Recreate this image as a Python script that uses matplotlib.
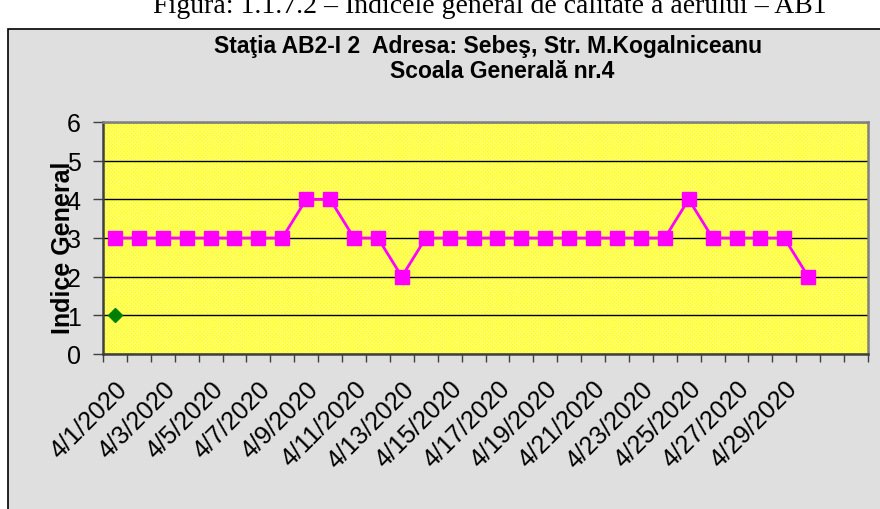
import numpy as np
import matplotlib
matplotlib.use("Agg")
import matplotlib.pyplot as plt
from matplotlib.patches import Rectangle
from matplotlib.transforms import ScaledTranslation

# data
dates = ["4/1/2020", "4/2/2020", "4/3/2020", "4/4/2020", "4/5/2020", "4/6/2020",
         "4/7/2020", "4/8/2020", "4/9/2020", "4/10/2020", "4/11/2020", "4/12/2020",
         "4/13/2020", "4/14/2020", "4/15/2020", "4/16/2020", "4/17/2020", "4/18/2020",
         "4/19/2020", "4/20/2020", "4/21/2020", "4/22/2020", "4/23/2020", "4/24/2020",
         "4/25/2020", "4/26/2020", "4/27/2020", "4/28/2020", "4/29/2020", "4/30/2020"]
indice_general = [3, 3, 3, 3, 3, 3, 3, 3, 4, 4, 3, 3, 2, 3, 3,
                  3, 3, 3, 3, 3, 3, 3, 3, 3, 4, 3, 3, 3, 3, 2]
indice_specific = [1]
n_slots = 32

plt.rcParams['font.family'] = ['Liberation Sans', 'DejaVu Sans']
plt.rcParams['hatch.linewidth'] = 1.0

W, H = 880, 510
fig = plt.figure(figsize=(W / 100, H / 100), dpi=100, facecolor='white')

# chart frame with grey background
fig.patches.append(Rectangle((8 / W, -0.01), 1.0, 1 - 30 / H + 0.01, transform=fig.transFigure,
                             facecolor='#dfdfdf', edgecolor='black', lw=1.2, zorder=-1))

# caption cut at the top
fig.text(490 / W, 1 - 13 / H, "Figura: 1.1.7.2 – Indicele general de calitate a aerului – AB1",
         family=['Liberation Serif', 'DejaVu Serif'], fontsize=20, ha='center', va='baseline')

fig.text(488 / W, 1 - 47 / H, "Staţia AB2-I 2  Adresa: Sebeş, Str. M.Kogalniceanu",
         fontsize=16.5, fontweight='bold', ha='center', va='center')
fig.text(502 / W, 1 - 72 / H, "Scoala Generală nr.4",
         fontsize=16.5, fontweight='bold', ha='center', va='center')

ax = fig.add_axes([103 / W, 1 - 355 / H, (868 - 103) / W, (355 - 123) / H])
ax.set_facecolor('#ffff00')
ax.add_patch(Rectangle((0, 0), 1, 1, transform=ax.transAxes, facecolor='none',
                       edgecolor=(1, 1, 1, 0.4), hatch='x' * 9, lw=0, zorder=0.1))

x = np.arange(len(indice_general))
ax.plot(x, indice_general, color='#ff00ff', lw=2, marker='s', markersize=10,
        markeredgecolor='#ff00ff', zorder=3)
ax.plot(x[:len(indice_specific)], indice_specific, color='#008000', marker='D',
        markersize=7, linestyle='none', zorder=3)

ax.set_ylim(0, 6)
ax.set_yticks(range(0, 7))
ax.yaxis.grid(True, color='black', lw=1)
ax.set_axisbelow(True)

ax.set_xlim(-0.5, n_slots - 0.5)
ax.set_xticks(np.arange(-0.5, n_slots, 1))
ax.set_xticklabels([])
ax.set_xticks(x[::2], minor=True)
ax.set_xticklabels(dates[::2], minor=True, rotation=45, ha='right', rotation_mode='anchor')
shift = ScaledTranslation(-5 / 100, 0, fig.dpi_scale_trans)
for lbl in ax.get_xticklabels(minor=True):
    lbl.set_transform(lbl.get_transform() + shift)

ax.tick_params(axis='y', direction='out', length=7, width=1, color='#404040', labelsize=18, pad=9)
ax.tick_params(axis='x', which='major', direction='out', length=6, width=1, color='#404040')
ax.tick_params(axis='x', which='minor', length=0, labelsize=18, pad=16)

for side in ['left', 'bottom']:
    ax.spines[side].set_color('#404040')
    ax.spines[side].set_linewidth(1.8)
for side in ['top', 'right']:
    ax.spines[side].set_color('#808080')
    ax.spines[side].set_linewidth(1.8)

ax.set_ylabel("Indice General", fontsize=18, fontweight='bold', va='center')
ax.yaxis.set_label_coords(-0.052, 0.46)

fig.savefig('out.png', dpi=100)
